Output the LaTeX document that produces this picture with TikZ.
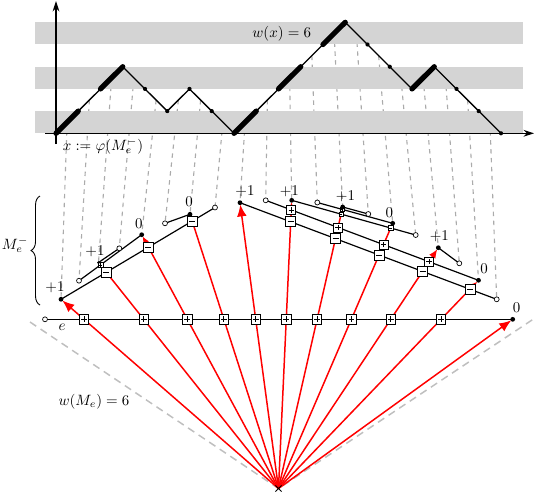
\documentclass[tikz,border=0pt]{standalone}
\usetikzlibrary{arrows.meta,calc,decorations.pathreplacing,shapes.misc}
\begin{document}
\begin{tikzpicture}[x=0.67pt,y=-0.67pt,
 band/.style={fill=black!17},
 guide/.style={draw=black!33, line width=0.75pt, dash pattern=on 3pt off 3pt},
 vguide/.style={draw=black!25, line width=1pt, dash pattern=on 5pt off 3.5pt},
 thinpath/.style={line width=0.85pt, line join=round},
 thickpath/.style={line width=3.5pt, line cap=round},
 vdot/.style={circle, fill=black, inner sep=0pt, minimum size=2.8pt},
 fdot/.style={circle, fill=black, inner sep=0pt, minimum size=3.2pt},
 odot/.style={circle, draw=black, fill=white, line width=0.45pt, inner sep=0pt, minimum size=3.3pt},
 lev/.style={line width=0.8pt},
 redl/.style={draw=red, line width=1pt},
 sq/.style={rectangle, draw=black, fill=white, line width=0.55pt, inner sep=0pt, minimum size=#1},
 sgnh/.style={path picture={\draw[line width=0.55pt] ($(path picture bounding box.center)!0.6!(path picture bounding box.west)$) -- ($(path picture bounding box.center)!0.6!(path picture bounding box.east)$);}},
 sgnp/.style={path picture={\draw[line width=0.55pt] ($(path picture bounding box.center)!0.6!(path picture bounding box.west)$) -- ($(path picture bounding box.center)!0.6!(path picture bounding box.east)$) ($(path picture bounding box.center)!0.6!(path picture bounding box.north)$) -- ($(path picture bounding box.center)!0.6!(path picture bounding box.south)$);}},
 lab/.style={inner sep=0pt},
]
\useasboundingbox (0,0) rectangle (535,493);

% ---------- lattice path coordinates ----------
\foreach \h [count=\i from 0] in {0,1,2,3,2,1,2,1,0,1,2,3,4,5,4,3,2,3,2,1,0}
  \coordinate (v\i) at ({56+22.25*\i},{133.3-22.2*\h});
\foreach \k in {1,...,20}{\pgfmathtruncatemacro\j{\k-1}\coordinate (s\k) at ($(v\j)!0.5!(v\k)$);}

% ---------- endpoints of M_e^- ----------
\foreach \n/\x/\y in {1/61/299.3, 2/79/280.7, 3/98.5/262.5, 4/119.3/248.3, 5/141.7/234.7,
  6/165/223.3, 7/190/214.3, 8/215/207.5, 9/240/202.7, 10/265.7/200.3, 11/291.7/200.3,
  12/317.3/202.5, 13/342.7/207, 14/368.3/214, 15/392.7/223.3, 16/415.7/235,
  17/438.3/247.7, 18/459.3/263.3, 19/478.5/280.3, 20/496.7/299.3}
  \coordinate (p\n) at (\x,\y);
\coordinate (pBL) at (45,319.3);
\coordinate (pBR) at (512.7,319.3);
\coordinate (apex) at (278.5,488.5);

% ---------- guide lines ----------
\foreach \k in {1,...,20} \draw[guide] (s\k) -- (p\k);

% ---------- bands ----------
\fill[band] (35,22.3) rectangle (523,44.3);
\fill[band] (35,66.7) rectangle (523,88.7);
\fill[band] (35,111) rectangle (523,133.3);

% ---------- axes ----------
\coordinate (xa0) at (45,133.3); \coordinate (xa1) at (534,133.3);
\coordinate (ya0) at (56,144); \coordinate (ya1) at (56,1);
\draw[line width=0.7pt,-{Stealth[length=7pt,width=4.5pt]}] (xa0) -- (xa1);
\draw[line width=0.7pt,-{Stealth[length=7pt,width=4.5pt]}] (ya0) -- (ya1);

% ---------- path ----------
\draw[thinpath] (v0) \foreach \i in {1,...,20}{ -- (v\i)};
\foreach \a/\b in {0/1,2/3,8/9,10/11,12/13,16/17} \draw[thickpath] (v\a) -- (v\b);
\foreach \i in {0,...,20} \node[vdot] (d\i) at (v\i) {};

\node[lab] (tw) at (281.7,34) {$w(x) = 6$};
\node[lab] (tphi) at (103,146) {$x := \varphi(M_e^-)$};

% ---------- fan ----------
\coordinate (vl) at (30,322); \coordinate (vr) at (535,318);
\draw[vguide] (vl) -- (apex) -- (vr);

\draw[lev] (pBL) -- (pBR);
\foreach \a/\b in {1/8,2/5,3/4,6/7,9/20,10/19,11/16,12/15,13/14,17/18} \draw[lev] (p\a) -- (p\b);

\foreach \t/\L/\W in {1/8pt/6.5pt, 3/2.2pt/2pt, 5/5pt/4.5pt, 7/4pt/3.5pt, 9/8pt/6.5pt,
  11/4pt/3.5pt, 13/2.2pt/2pt, 15/3.5pt/3pt, 17/6pt/5pt, 19/5pt/4.5pt}
  \draw[redl,-{Latex[length=\L,width=\W]},shorten >=1.2pt] (apex) -- (p\t);
\draw[redl,-{Latex[length=8pt,width=6.5pt]},shorten >=1.2pt] (apex) -- (pBR);

% squares
\foreach \t in {1,3,5,7,9,11,13,15,17,19}
  \node[sq=6.4pt,sgnp] (b\t) at (intersection of pBL--pBR and apex--p\t) {};
\foreach \t in {3,5,7}
  \node[sq=6.7pt,sgnh] (m\t) at (intersection of p1--p8 and apex--p\t) {};
\foreach \t in {11,13,15,17,19}
  \node[sq=6.7pt,sgnh] (m\t) at (intersection of p9--p20 and apex--p\t) {};
\foreach \t in {11,13,15,17}
  \node[sq=6pt,sgnp] (q\t) at (intersection of p10--p19 and apex--p\t) {};
\node[sq=3.4pt,sgnp,line width=0.4pt] (q3) at (intersection of p2--p5 and apex--p3) {};
\foreach \t in {13,15}
  \node[sq=3pt,sgnh,line width=0.4pt] (r\t) at (intersection of p11--p16 and apex--p\t) {};
\node[sq=2.7pt,sgnp,line width=0.4pt] (u13) at (intersection of p12--p15 and apex--p13) {};

% endpoints
\foreach \n in {1,5,7,9,11,13,15,17,19} \node[fdot] (e\n) at (p\n) {};
\node[fdot,minimum size=2pt] (e3) at (p3) {};
\foreach \n in {2,4,...,20} \node[odot] (e\n) at (p\n) {};
\node[odot] (eBL) at (pBL) {};
\node[fdot] (eBR) at (pBR) {};
\node[cross out, draw, line width=0.6pt, minimum size=3.5pt, inner sep=0pt] (x0) at (apex) {};

% labels
\node[lab] (l1) at (55,287) {$+1$};
\node[lab] (l3) at (95,251.5) {$+1$};
\node[lab] (l5) at (138.8,223.3) {$0$};
\node[lab] (l7) at (189,201.7) {$0$};
\node[lab] (l9) at (245,191.5) {$+1$};
\node[lab] (l11) at (289.3,191.5) {$+1$};
\node[lab] (l13) at (345.5,196) {$+1$};
\node[lab] (l15) at (389.3,213) {$0$};
\node[lab] (l17) at (439.3,236) {$+1$};
\node[lab] (l19) at (484,268.5) {$0$};
\node[lab] (lBR) at (516.7,307.7) {$0$};
\node[lab] (le) at (62,327) {$e$};
\node[lab] (twM) at (94,402) {$w(M_e) = 6$};

% brace
\draw[decorate, decoration={brace, amplitude=6pt}, line width=0.6pt] (40,305) -- (40,196);
\node[lab] (tM) at (15,245) {$M_e^-$};
\end{tikzpicture}
\end{document}
